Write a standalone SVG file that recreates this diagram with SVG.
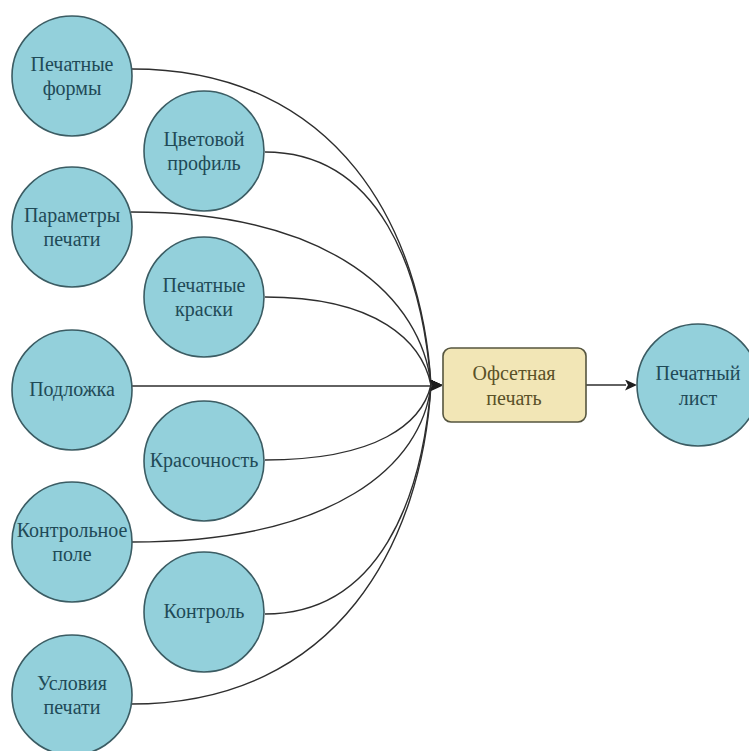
<svg xmlns="http://www.w3.org/2000/svg" width="749" height="751" viewBox="0 0 749 751">
  <style>
    .node circle { fill: #93d0db; stroke: #3b5c63; stroke-width: 1.6; }
    .node text { font-family: "Liberation Serif", "Times New Roman", serif; font-size: 20px; fill: #1f4a57; text-anchor: middle; }
    .proc rect { fill: #f2e6b6; stroke: #55553f; stroke-width: 1.6; }
    .proc text { font-family: "Liberation Serif", "Times New Roman", serif; font-size: 20px; fill: #5a5128; text-anchor: middle; }
    .edges path { fill: none; stroke: #2e2e2e; stroke-width: 1.4; }
  </style>
  <defs>
    <!-- fixed-orientation head: every input arrives pointing right into the block -->
    <marker id="arrow" markerWidth="13" markerHeight="11" refX="1" refY="5.5" orient="0" markerUnits="userSpaceOnUse">
      <path d="M0,0 L12,5.5 L0,11 L3,5.5 z" fill="#1e1e1e"/>
    </marker>
  </defs>

  <rect width="749" height="751" fill="#ffffff"/>

  <!-- connectors: inputs converge on the process block -->
  <g class="edges">
    <path d="M132,69 C339,69 422,230 431,385" marker-end="url(#arrow)"/>
    <path d="M265,152 C380,152 422,271 431,385" marker-end="url(#arrow)"/>
    <path d="M131,212 C335,212 422,300 431,385" marker-end="url(#arrow)"/>
    <path d="M265,297 C378,297 422,342 431,385" marker-end="url(#arrow)"/>
    <path d="M132,386 L431,386" marker-end="url(#arrow)"/>
    <path d="M265,460 C378,460 422,423 431,385" marker-end="url(#arrow)"/>
    <path d="M132,542 C335,542 422,465 431,385" marker-end="url(#arrow)"/>
    <path d="M265,614 C380,614 422,498 431,385" marker-end="url(#arrow)"/>
    <path d="M131,704 C339,704 422,541 431,385" marker-end="url(#arrow)"/>
    <path d="M586,385 L626,385" marker-end="url(#arrow)"/>
  </g>

  <!-- left column -->
  <g id="pechatnye-formy" class="node">
    <circle cx="72" cy="76" r="60"/>
    <text x="72" y="71">Печатные</text>
    <text x="72" y="95">формы</text>
  </g>
  <g id="parametry-pechati" class="node">
    <circle cx="72" cy="227" r="60"/>
    <text x="72" y="222">Параметры</text>
    <text x="72" y="246">печати</text>
  </g>
  <g id="podlozhka" class="node">
    <circle cx="72" cy="390" r="60"/>
    <text x="72" y="396">Подложка</text>
  </g>
  <g id="kontrolnoe-pole" class="node">
    <circle cx="72" cy="542" r="60"/>
    <text x="72" y="537">Контрольное</text>
    <text x="72" y="561">поле</text>
  </g>
  <g id="usloviya-pechati" class="node">
    <circle cx="72" cy="695" r="60"/>
    <text x="72" y="690">Условия</text>
    <text x="72" y="714">печати</text>
  </g>

  <!-- inner column -->
  <g id="tsvetovoy-profil" class="node">
    <circle cx="204" cy="151" r="60"/>
    <text x="204" y="146">Цветовой</text>
    <text x="204" y="170">профиль</text>
  </g>
  <g id="pechatnye-kraski" class="node">
    <circle cx="204" cy="297" r="60"/>
    <text x="204" y="292">Печатные</text>
    <text x="204" y="316">краски</text>
  </g>
  <g id="krasochnost" class="node">
    <circle cx="204" cy="461" r="60"/>
    <text x="204" y="467">Красочность</text>
  </g>
  <g id="kontrol" class="node">
    <circle cx="204" cy="612" r="60"/>
    <text x="204" y="618">Контроль</text>
  </g>

  <!-- process and result -->
  <g id="ofsetnaya-pechat" class="proc">
    <rect x="443" y="348" width="143" height="74" rx="8" ry="8"/>
    <text x="514" y="380">Офсетная</text>
    <text x="514" y="405">печать</text>
  </g>
  <g id="pechatnyy-list" class="node">
    <circle cx="698" cy="385" r="61"/>
    <text x="698" y="380">Печатный</text>
    <text x="698" y="405">лист</text>
  </g>
</svg>
